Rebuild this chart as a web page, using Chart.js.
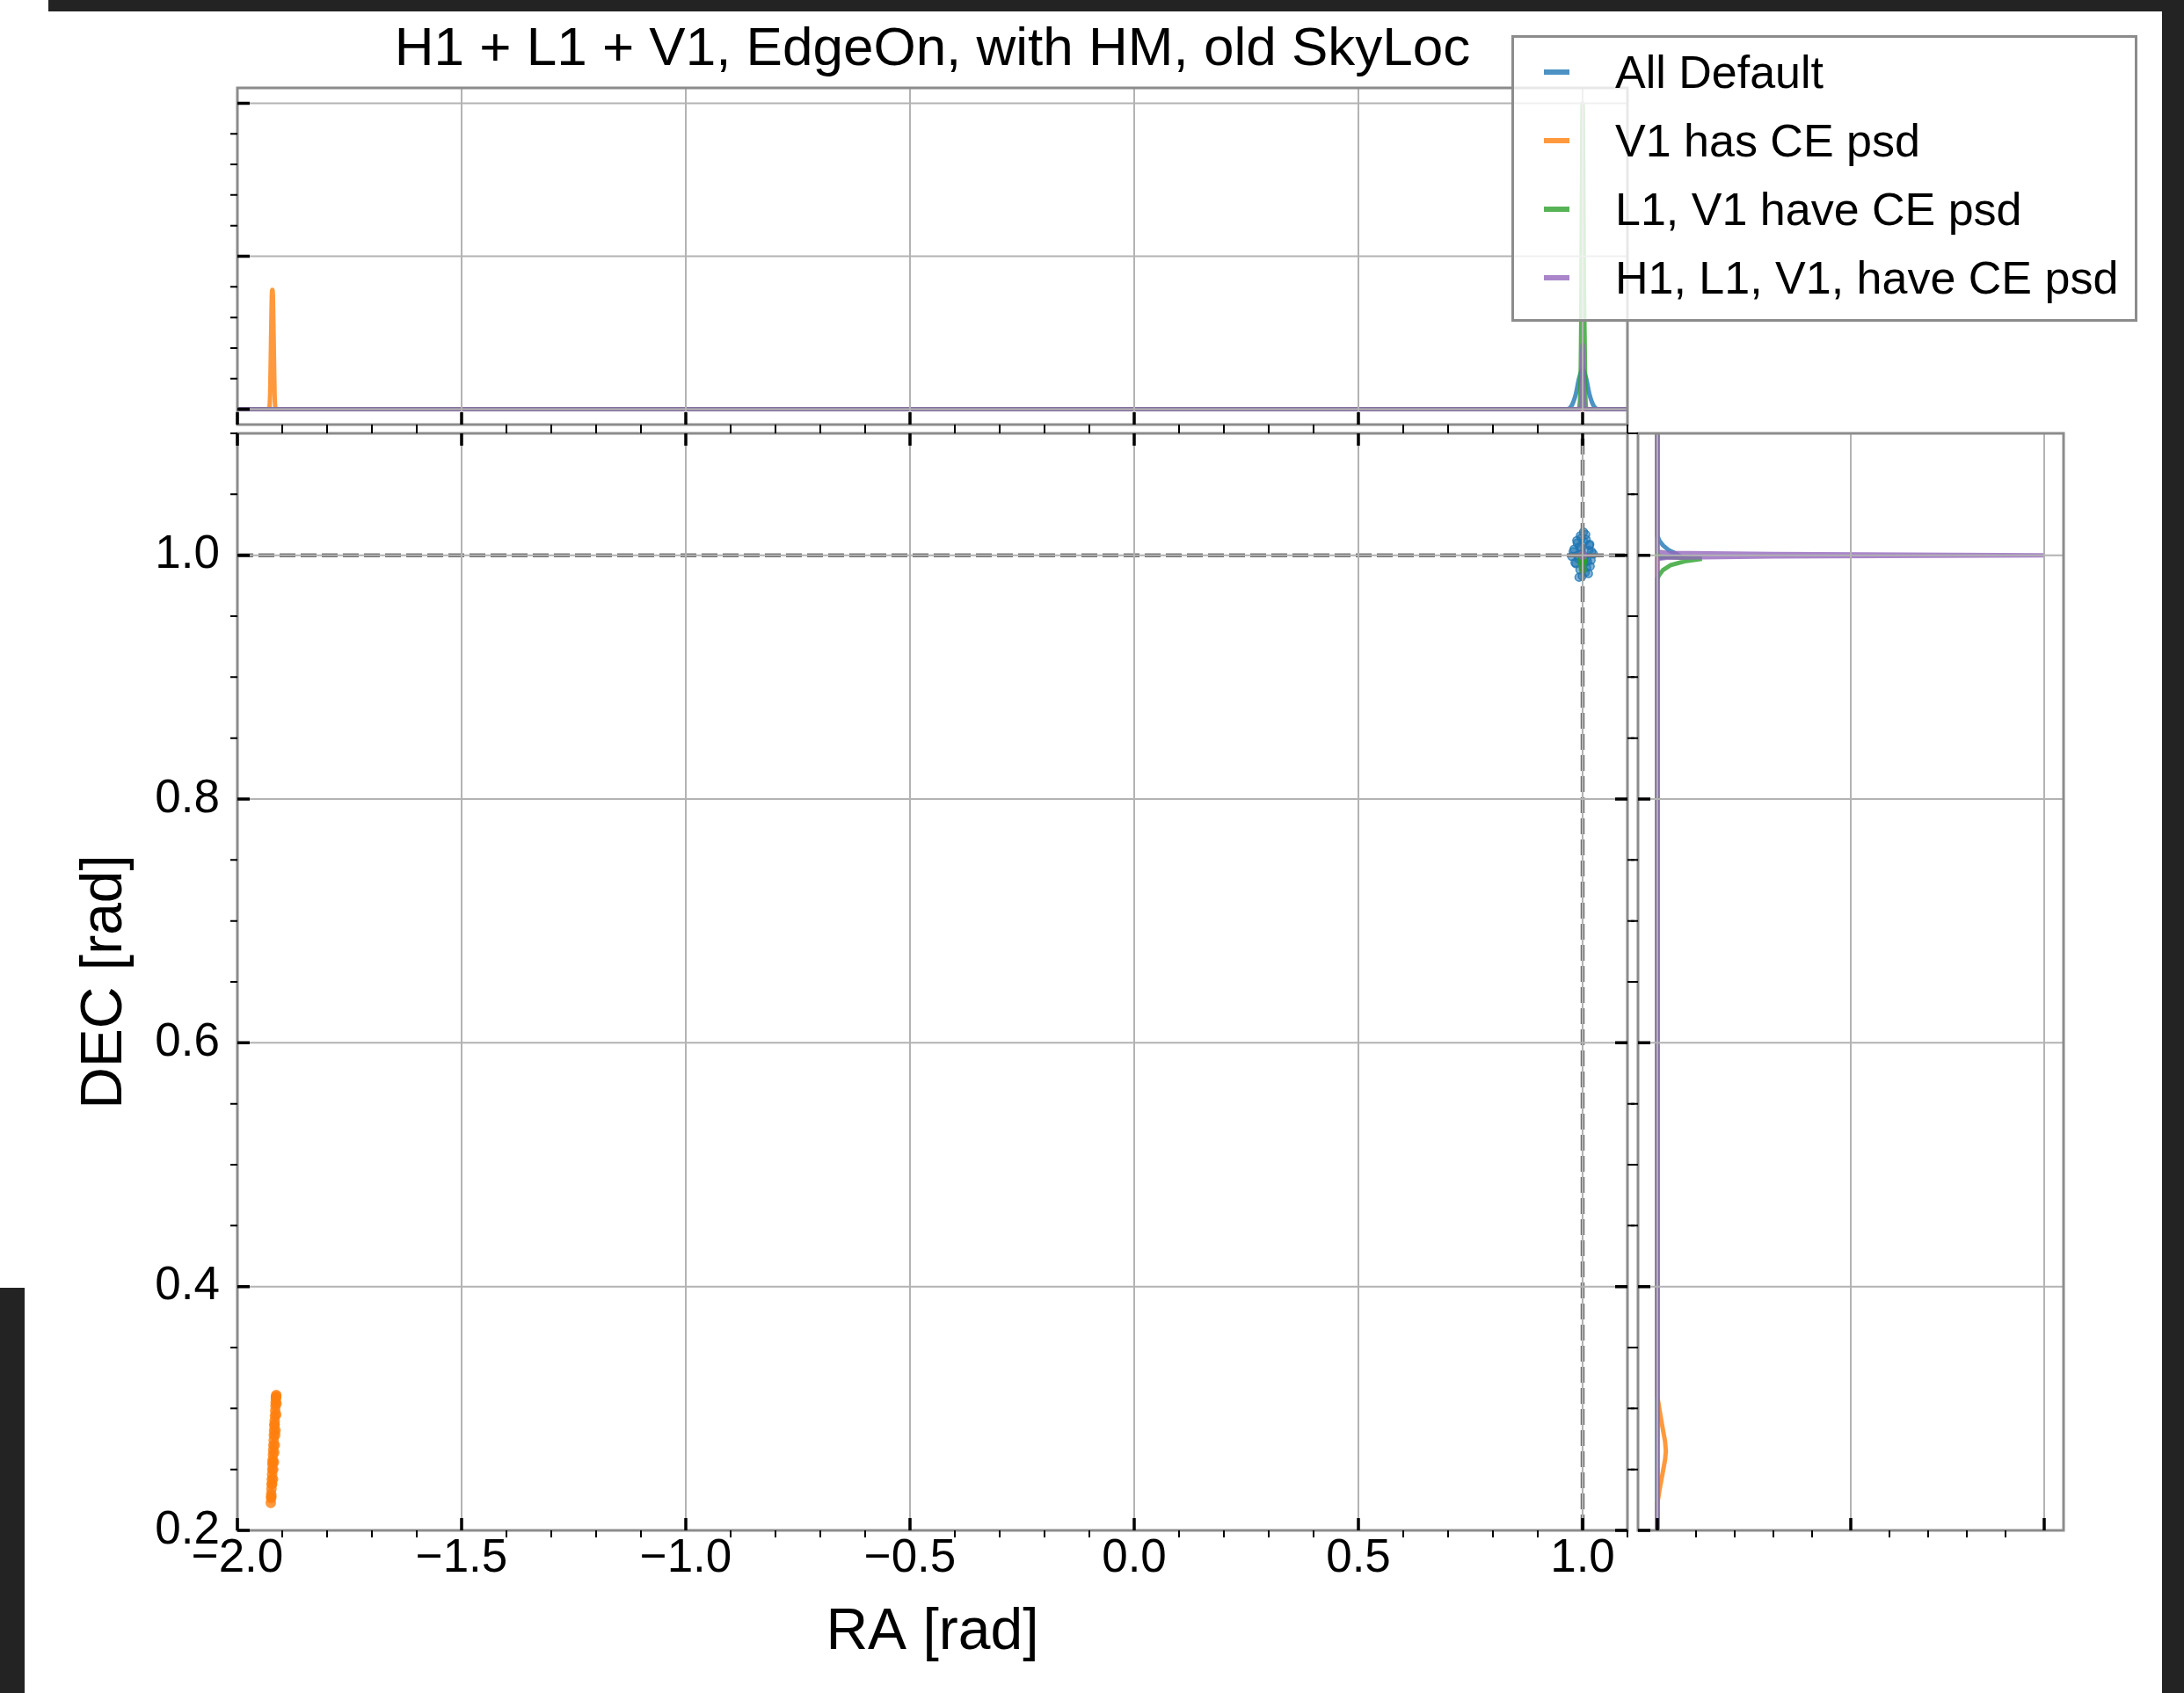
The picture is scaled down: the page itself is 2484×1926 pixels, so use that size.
<!DOCTYPE html>
<html>
<head>
<meta charset="utf-8">
<title>Sky localisation</title>
<script src="https://cdn.jsdelivr.net/npm/chart.js@4.4.1/dist/chart.umd.min.js"></script>
<style>
  html, body { margin: 0; padding: 0; background: #fff; }
  body { width: 2484px; height: 1926px; position: relative; overflow: hidden;
         font-family: 'Liberation Sans', Arial, Helvetica, sans-serif; }
  canvas { position: absolute; }
  .edge { position: absolute; background: #232323; }
  #legend { position: absolute; left: 1719px; top: 40px; width: 706px; height: 320px;
            border: 3px solid #8c8c8c; background: rgba(255, 255, 255, 0.8); z-index: 5; }
  #legend .row { position: absolute; left: 0; height: 78px; line-height: 78px; font-size: 52px; white-space: nowrap; }
  #legend .swatch { position: absolute; left: 34px; top: 36px; width: 29px; height: 6px; }
  #legend .name { position: absolute; left: 115px; top: 0; }
</style>
</head>
<body>
<div class="edge" style="left:55px;top:0;width:2429px;height:13px"></div>
<div class="edge" style="left:0;top:1465px;width:28px;height:461px"></div>
<div class="edge" style="left:2459px;top:0;width:25px;height:1926px"></div>

<canvas id="raMarginal" width="2121" height="520" style="left:0;top:0"></canvas>
<canvas id="joint" width="1880" height="1456" style="left:0;top:470px"></canvas>
<canvas id="decMarginal" width="629" height="1300" style="left:1855px;top:470px"></canvas>
<div id="legend"></div>

<script>
// ---- series ----
const seriesLabels = ['All Default', 'V1 has CE psd', 'L1, V1 have CE psd', 'H1, L1, V1, have CE psd'];
const seriesColors = ['rgba(31,119,180,0.8)', 'rgba(255,127,14,0.8)', 'rgba(44,160,44,0.8)', 'rgba(148,103,189,0.8)'];

const injectedRA = 1.0;
const injectedDEC = 1.0;

// ---- axes ----
const raTicks = [-2.0, -1.5, -1.0, -0.5, 0.0, 0.5, 1.0];
const decTicks = [0.2, 0.4, 0.6, 0.8, 1.0];
const densityTicks = [0, 1, 2];

// ---- posterior samples ----
const allDefaultRA  = [1.002, 0.995, 1.008, 0.988, 1.015, 0.981, 1.020, 0.998, 1.004, 0.991, 1.011, 0.985, 1.017, 0.976, 1.024, 0.994, 1.006, 0.999, 1.013, 0.987, 1.009, 0.979, 1.019, 0.996, 1.003, 0.992, 1.014, 0.983, 1.007, 1.001, 0.989, 1.016, 0.997, 1.010, 0.993];
const allDefaultDEC = [1.019, 1.016, 1.013, 1.010, 1.008, 1.005, 1.003, 1.001, 0.999, 0.997, 0.995, 0.993, 0.991, 0.999, 1.001, 0.988, 0.986, 0.983, 0.985, 1.012, 0.990, 1.003, 0.996, 1.006, 1.011, 0.982, 1.004, 0.994, 1.017, 0.992, 1.000, 1.009, 1.014, 0.998, 1.007];

const v1CeRA  = [-1.9255, -1.9248, -1.9246, -1.9240, -1.9236, -1.9232, -1.9226, -1.9222, -1.9217, -1.9212, -1.9206, -1.9202, -1.9196, -1.9190, -1.9186, -1.9180, -1.9174, -1.9168, -1.9162, -1.9156, -1.9150, -1.9146, -1.9140, -1.9136, -1.9132, -1.9140, -1.9244, -1.9215, -1.9170,
                 -1.9205, -1.9185, -1.9165, -1.9150, -1.9135, -1.9225, -1.9200, -1.9178, -1.9158, -1.9128];
const v1CeDEC = [0.2225, 0.2265, 0.2300, 0.2340, 0.2380, 0.2420, 0.2460, 0.2500, 0.2540, 0.2580, 0.2620, 0.2660, 0.2700, 0.2740, 0.2780, 0.2820, 0.2860, 0.2900, 0.2940, 0.2980, 0.3020, 0.3050, 0.3080, 0.3100, 0.3110, 0.3090, 0.2280, 0.2560, 0.2870,
                 0.2420, 0.2560, 0.2700, 0.2820, 0.2950, 0.2380, 0.2500, 0.2640, 0.2780, 0.3040];

const l1v1CeRA  = [0.999, 1.001, 1.000, 0.998, 1.002, 1.000, 0.999, 1.001, 1.0005, 0.9995];
const l1v1CeDEC = [0.996, 0.994, 0.992, 0.998, 0.997, 0.990, 0.993, 0.995, 0.988, 0.999];

const allCeRA  = [1.000, 1.0005, 0.9995, 1.001, 0.999];
const allCeDEC = [1.000, 1.0005, 0.9995, 0.9998, 1.0003];

// ---- marginal densities along RA ----
const allDefaultKdeRA   = [-2.0, 0.965, 0.975, 0.985, 0.992, 1.0, 1.008, 1.015, 1.025, 1.035, 1.1];
const allDefaultKdeRAy  = [0, 0, 0.02, 0.1, 0.2, 0.26, 0.2, 0.1, 0.02, 0, 0];
const v1CeKdeRA         = [-2.0, -1.930, -1.927, -1.925, -1.923, -1.922, -1.921, -1.919, -1.917, -1.914, 1.1];
const v1CeKdeRAy        = [0, 0, 0.1, 0.45, 0.76, 0.78, 0.76, 0.45, 0.1, 0, 0];
const l1v1CeKdeRA       = [-2.0, 0.99, 0.994, 0.997, 0.999, 1.0, 1.001, 1.003, 1.006, 1.009, 1.1];
const l1v1CeKdeRAy      = [0, 0, 0.05, 0.6, 1.7, 2.0, 1.8, 0.8, 0.1, 0, 0];
const allCeKdeRA        = [-2.0, 0.995, 0.997, 0.999, 1.0, 1.001, 1.003, 1.005, 1.1];
const allCeKdeRAy       = [0, 0, 0.08, 0.33, 0.42, 0.33, 0.08, 0, 0];

// ---- marginal densities along DEC ----
const allDefaultKdeDEC  = [0.2, 0.997, 0.998, 0.999, 1.0, 1.001, 1.004, 1.008, 1.012, 1.016, 1.1];
const allDefaultKdeDECx = [0, 0, 0.02, 0.06, 0.11, 0.10, 0.06, 0.03, 0.01, 0, 0];
const v1CeKdeDEC        = [0.2, 0.222, 0.232, 0.245, 0.258, 0.265, 0.273, 0.286, 0.298, 0.31, 1.1];
const v1CeKdeDECx       = [0, 0, 0.01, 0.025, 0.04, 0.044, 0.04, 0.025, 0.012, 0, 0];
const l1v1CeKdeDEC      = [0.2, 0.981, 0.984, 0.988, 0.992, 0.995, 0.997, 0.998, 0.999, 1.0, 1.1];
const l1v1CeKdeDECx     = [0, 0, 0.01, 0.03, 0.07, 0.14, 0.23, 0.12, 0.02, 0, 0];
const allCeKdeDEC       = [0.2, 0.997, 0.998, 0.999, 1.0, 1.001, 1.002, 1.003, 1.1];
const allCeKdeDECx      = [0, 0, 0.05, 0.6, 2.0, 0.6, 0.05, 0, 0];

const samples = [
  [allDefaultRA, allDefaultDEC],
  [v1CeRA, v1CeDEC],
  [l1v1CeRA, l1v1CeDEC],
  [allCeRA, allCeDEC]
];
const raCurves = [
  [allDefaultKdeRA, allDefaultKdeRAy],
  [v1CeKdeRA, v1CeKdeRAy],
  [l1v1CeKdeRA, l1v1CeKdeRAy],
  [allCeKdeRA, allCeKdeRAy]
];
const decCurves = [
  [allDefaultKdeDECx, allDefaultKdeDEC],
  [v1CeKdeDECx, v1CeKdeDEC],
  [l1v1CeKdeDECx, l1v1CeKdeDEC],
  [allCeKdeDECx, allCeKdeDEC]
];

Chart.defaults.font.family = "'Liberation Sans', Arial, Helvetica, sans-serif";
Chart.defaults.color = '#000';

const pairs = (xs, ys) => xs.map((v, k) => ({ x: v, y: ys[k] }));
const minus = v => (v < 0 ? '\u2212' : '') + Math.abs(v).toFixed(1);

// fixed box size, and no extra room reserved for half of the end labels
const fixBox = (w, h) => s => {
  if (w !== null) s.width = w;
  if (h !== null) s.height = h;
  s.paddingTop = 0; s.paddingBottom = 0; s.paddingLeft = 0; s.paddingRight = 0;
};

// grid over the data, grey frame, black ticks: majors point in, minors point out
const axisFrame = {
  id: 'axisFrame',
  afterDatasetsDraw(chart, args, opts) {
    const { ctx, chartArea: a } = chart;
    const xs = chart.scales.x, ys = chart.scales.y;
    ctx.save();

    ctx.strokeStyle = '#b3b3b3';
    ctx.lineWidth = 2;
    ctx.beginPath();
    xs.ticks.forEach(t => {
      const p = xs.getPixelForValue(t.value);
      ctx.moveTo(p, a.top); ctx.lineTo(p, a.bottom);
    });
    ys.ticks.forEach(t => {
      const p = ys.getPixelForValue(t.value);
      ctx.moveTo(a.left, p); ctx.lineTo(a.right, p);
    });
    ctx.stroke();

    ctx.strokeStyle = '#8c8c8c';
    ctx.lineWidth = 3;
    ctx.strokeRect(a.left, a.top, a.right - a.left, a.bottom - a.top);

    const minors = (scale, step) => {
      const out = [];
      const majors = scale.ticks.map(t => t.value);
      const n0 = Math.ceil(scale.min / step - 1e-6), n1 = Math.floor(scale.max / step + 1e-6);
      for (let n = n0; n <= n1; n++) {
        const v = +(n * step).toFixed(6);
        if (!majors.some(m => Math.abs(m - v) < 1e-6)) out.push(v);
      }
      return out;
    };
    const xMajor = xs.ticks.map(t => t.value), yMajor = ys.ticks.map(t => t.value);
    const xMinor = minors(xs, opts.minorX), yMinor = minors(ys, opts.minorY);

    ctx.strokeStyle = '#000';
    const draw = (side, values, len, width) => {
      ctx.lineWidth = width;
      ctx.beginPath();
      values.forEach(v => {
        if (side === 'bottom' || side === 'top') {
          const p = xs.getPixelForValue(v);
          const y0 = side === 'bottom' ? a.bottom : a.top;
          const dir = side === 'bottom' ? -1 : 1;
          ctx.moveTo(p, y0); ctx.lineTo(p, y0 + dir * len);
        } else {
          const p = ys.getPixelForValue(v);
          const x0 = side === 'left' ? a.left : a.right;
          const dir = side === 'left' ? 1 : -1;
          ctx.moveTo(x0, p); ctx.lineTo(x0 + dir * len, p);
        }
      });
      ctx.stroke();
    };
    opts.sides.forEach(side => {
      const horiz = side === 'bottom' || side === 'top';
      draw(side, horiz ? xMajor : yMajor, 14, 3.5);
      draw(side, horiz ? xMinor : yMinor, -8, 2);
    });
    ctx.restore();
  }
};

const hiddenAxis = (min, max, ticks, fit) => ({
  type: 'linear', min, max,
  grid: { display: false, drawTicks: false },
  border: { display: false },
  ticks: { display: false },
  afterBuildTicks: s => { s.ticks = ticks.map(v => ({ value: v })); },
  afterFit: fit
});

// ---- RA marginal (top) ----
new Chart(document.getElementById('raMarginal'), {
  type: 'scatter',
  data: {
    datasets: raCurves.map((c, i) => ({
      label: seriesLabels[i],
      data: pairs(c[0], c[1]),
      showLine: true,
      pointRadius: 0,
      borderColor: seriesColors[i],
      borderWidth: 5,
      cubicInterpolationMode: 'monotone',
      order: seriesLabels.length - i
    }))
  },
  options: {
    responsive: false,
    animation: false,
    events: [],
    layout: { padding: { left: 270, right: 270, top: 0, bottom: 0 } },
    plugins: {
      legend: { display: false },
      tooltip: { enabled: false },
      title: {
        display: true,
        text: 'H1 + L1 + V1, EdgeOn, with HM, old SkyLoc',
        color: '#000',
        font: { size: 62, weight: 'normal' },
        padding: { top: 20, bottom: 5.6 }
      },
      axisFrame: { sides: ['left', 'bottom'], minorX: 0.1, minorY: 0.2 }
    },
    scales: {
      x: hiddenAxis(-2.0, 1.1, raTicks, fixBox(null, 37)),
      y: hiddenAxis(-0.1, 2.1, densityTicks, fixBox(0, null))
    }
  },
  plugins: [axisFrame]
});

// ---- joint RA / DEC samples ----
const jointSets = samples.map((s, i) => ({
  label: seriesLabels[i],
  data: pairs(s[0], s[1]),
  pointRadius: i === 1 ? 6 : 4.5,
  pointBackgroundColor: i === 0 ? 'rgba(31,119,180,0.55)' : seriesColors[i],
  pointBorderColor: seriesColors[i],
  pointBorderWidth: i === 0 ? 1.5 : 0,
  order: seriesLabels.length - i + 1
}));
const injectedLine = pts => ({
  data: pts,
  showLine: true,
  pointRadius: 0,
  borderColor: '#707070',
  borderWidth: 4.5,
  borderDash: [18, 6],
  order: 0
});
jointSets.push(injectedLine([{ x: -2.0, y: injectedDEC }, { x: 1.1, y: injectedDEC }]));
jointSets.push(injectedLine([{ x: injectedRA, y: 0.2 }, { x: injectedRA, y: 1.1 }]));

new Chart(document.getElementById('joint'), {
  type: 'scatter',
  data: { datasets: jointSets },
  options: {
    responsive: false,
    animation: false,
    events: [],
    layout: { padding: { left: 0, right: 29, top: 23, bottom: 0 } },
    plugins: {
      legend: { display: false },
      tooltip: { enabled: false },
      axisFrame: { sides: ['left', 'right', 'top', 'bottom'], minorX: 0.1, minorY: 0.05 }
    },
    scales: {
      x: {
        type: 'linear', min: -2.0, max: 1.1,
        grid: { display: false, drawTicks: false },
        border: { display: false },
        afterBuildTicks: s => { s.ticks = raTicks.map(v => ({ value: v })); },
        afterFit: fixBox(null, 185),
        ticks: { padding: 1, maxRotation: 0, font: { size: 53 }, callback: v => minus(v) },
        title: { display: true, text: 'RA [rad]', font: { size: 66 }, padding: { top: 0, bottom: 29 } }
      },
      y: {
        type: 'linear', min: 0.2, max: 1.1,
        grid: { display: false, drawTicks: false },
        border: { display: false },
        afterBuildTicks: s => { s.ticks = decTicks.map(v => ({ value: v })); },
        afterFit: fixBox(270, null),
        ticks: { padding: 20, font: { size: 53 }, callback: v => minus(v) },
        title: { display: true, text: 'DEC [rad]', font: { size: 66 }, padding: { top: 80, bottom: 0 } }
      }
    }
  },
  plugins: [axisFrame]
});

// ---- DEC marginal (right) ----
new Chart(document.getElementById('decMarginal'), {
  type: 'scatter',
  data: {
    datasets: decCurves.map((c, i) => ({
      label: seriesLabels[i],
      data: pairs(c[0], c[1]),
      showLine: true,
      pointRadius: 0,
      borderColor: seriesColors[i],
      borderWidth: 5,
      order: seriesLabels.length - i
    }))
  },
  options: {
    responsive: false,
    animation: false,
    events: [],
    layout: { padding: { left: 0, right: 137, top: 23, bottom: 0 } },
    plugins: {
      legend: { display: false },
      tooltip: { enabled: false },
      axisFrame: { sides: ['left', 'bottom'], minorX: 0.2, minorY: 0.05 }
    },
    scales: {
      x: hiddenAxis(-0.1, 2.1, densityTicks, fixBox(null, 29)),
      y: hiddenAxis(0.2, 1.1, decTicks, fixBox(8, null))
    }
  },
  plugins: [axisFrame]
});

// ---- legend ----
const legendBox = document.getElementById('legend');
seriesLabels.forEach((name, i) => {
  const row = document.createElement('div');
  row.className = 'row';
  row.style.top = (78 * i) + 'px';
  const sw = document.createElement('div');
  sw.className = 'swatch';
  sw.style.background = seriesColors[i];
  const tx = document.createElement('div');
  tx.className = 'name';
  tx.textContent = name;
  row.appendChild(sw);
  row.appendChild(tx);
  legendBox.appendChild(row);
});
</script>
</body>
</html>
